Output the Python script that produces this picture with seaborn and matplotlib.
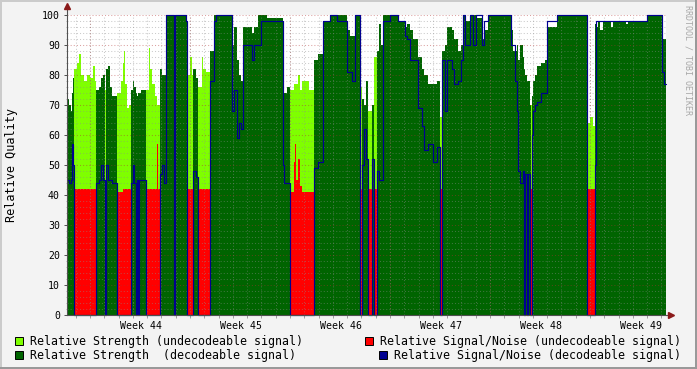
import numpy as np
import pandas as pd
import matplotlib
matplotlib.use("Agg")
import matplotlib.pyplot as plt
import seaborn as sns
from matplotlib.patches import Rectangle
from matplotlib.ticker import FixedLocator, MultipleLocator

# ---------------- data (time in weeks since start of graph) ----------------
week_pos = [0.00, 0.02, 0.04, 0.05, 0.06, 0.07, 0.10, 0.12, 0.14, 0.17, 0.20, 0.23, 0.26, 0.28,
            0.29, 0.32, 0.34, 0.36, 0.38, 0.39, 0.41, 0.43, 0.45, 0.50, 0.54, 0.56, 0.57, 0.58,
            0.60, 0.62, 0.64, 0.66, 0.67, 0.69, 0.70, 0.71, 0.72, 0.74, 0.79, 0.82, 0.83, 0.85,
            0.88, 0.90, 0.91, 0.93, 0.95, 0.97, 0.99, 1.07, 1.08, 1.19, 1.20, 1.23, 1.25, 1.26,
            1.29, 1.31, 1.35, 1.36, 1.39, 1.43, 1.47, 1.49, 1.65, 1.67, 1.70, 1.72, 1.74, 1.76,
            1.85, 1.87, 1.91, 1.94, 2.00, 2.16, 2.17, 2.20, 2.23, 2.27, 2.28, 2.29, 2.31, 2.33,
            2.35, 2.42, 2.47, 2.51, 2.56, 2.63, 2.70, 2.80, 2.83, 2.85, 2.88, 2.93, 2.95, 2.97,
            2.99, 3.01, 3.05, 3.07, 3.10, 3.12, 3.14, 3.16, 3.23, 3.31, 3.38, 3.40, 3.43, 3.46,
            3.51, 3.55, 3.57, 3.61, 3.66, 3.70, 3.73, 3.75, 3.78, 3.80, 3.85, 3.87, 3.91, 3.94,
            3.96, 3.98, 4.03, 4.06, 4.09, 4.15, 4.17, 4.21, 4.44, 4.46, 4.48, 4.50, 4.51, 4.53,
            4.56, 4.57, 4.58, 4.60, 4.61, 4.63, 4.64, 4.65, 4.66, 4.68, 4.70, 4.74, 4.78, 4.80,
            4.90, 5.20, 5.23, 5.26, 5.28, 5.29, 5.31, 5.33, 5.36, 5.44, 5.46, 5.59, 5.61, 5.80,
            5.95, 5.97]
end_week = 5.99

strength = [72, 70, 68, 74, 79,
            82, 84, 87, 80, 78, 80, 79, 83, 78,
            75, 76, 79, 80,
            75,
            82, 83, 76, 73,
            74, 78, 84, 88, 77, 69, 70,
            75, 78, 76,
            74, 73, 74, 74, 75,
            75, 89, 82, 77, 73, 70, 70,
            82, 80, 80,
            100, 100, 100, 99,
            80, 86, 80,
            82, 79,
            76, 86, 82, 81,
            88, 100, 100, 90, 96, 85, 80, 78, 96, 94, 96, 100, 100, 99, 80, 74, 76,
            75, 77, 77, 77, 80, 75, 78, 75,
            85, 87, 98, 100, 100, 95, 93, 93, 100,
            76,
            72, 70, 78,
            68,
            70,
            86,
            88, 97, 90, 100, 100, 98, 96, 97, 95, 92, 86, 82, 80, 77, 77, 78,
            66,
            88, 90, 96, 95, 92, 88, 90, 100, 98, 100, 100, 99, 92, 95, 100, 95, 88, 88, 90,
            85, 90, 86, 82, 80, 78, 78, 70,
            70,
            73, 78, 80, 83, 84, 85, 96, 100,
            64, 66, 63,
            97, 96, 98, 95, 98, 96, 98, 97, 98, 100, 92, 92]

snr = [45, 44, 45, 57, 50,
       42, 42, 42, 42, 42, 42, 42, 42, 42,
       44, 45, 50, 45,
       42,
       50, 45, 45, 44,
       41, 41, 42, 42, 42, 42, 42,
       44, 50, 44,
       0, 45, 0, 45, 45,
       42, 42, 42, 42, 42, 57, 42,
       47, 50, 44,
       100, 0, 100, 98,
       42, 42, 42,
       48, 46,
       42, 42, 42, 42,
       78, 98, 100, 68, 75, 59, 64, 62, 90, 85, 90, 90, 98, 98, 50, 44, 44,
       41, 51, 57, 45, 52, 43, 41, 41,
       49, 51, 98, 100, 98, 81, 81, 78, 100,
       42,
       50, 62, 52,
       42,
       52,
       42,
       48, 45, 45, 98, 100, 98, 93, 92, 85, 85, 69, 63, 55, 57, 51, 56,
       42,
       85, 68, 85, 82, 77, 78, 85, 100, 90, 100, 90, 100, 90, 98, 100, 90, 90, 78, 68,
       48, 44, 48, 0, 47, 0, 47, 0,
       42,
       60, 68, 70, 71, 74, 74, 98, 100,
       42, 42, 42,
       50, 98, 98, 98, 98, 98, 98, 98, 98, 100, 81, 77]

decodeable = [1] * 5 + [0] * 9 + [1] * 4 + [0] + [1] * 4 + [0] * 7 + [1] * 3 + [1] * 5 + \
             [0] * 7 + [1] * 7 + [0] * 3 + [1] * 2 + [0] * 4 + [1] * 17 + [0] * 8 + [1] * 9 + \
             [0] + [1] * 3 + [0] + [1] + [0] + [1] * 16 + [0] + [1] * 27 + [0] + [1] * 8 + \
             [0] * 3 + [1] * 12

week_labels = ["Week 44", "Week 45", "Week 46", "Week 47", "Week 48", "Week 49"]
week_label_pos = [0.74, 1.74, 2.74, 3.74, 4.74, 5.74]
week_start_pos = [0.23, 1.23, 2.23, 3.23, 4.23, 5.23]

legend_labels = ["Relative Strength (undecodeable signal)",
                 "Relative Strength  (decodeable signal)",
                 "Relative Signal/Noise (undecodeable signal)",
                 "Relative Signal/Noise (decodeable signal)"]

C_LGREEN = "#7FFF00"
C_DGREEN = "#006400"
C_RED = "#FF0000"
C_BLUE = "#000090"

# ---------------- style ----------------
sns.set_theme(style="white")
plt.rcParams['font.family'] = ['DejaVu Sans Mono', 'DejaVu Sans']

W, H = 697, 369
fig = plt.figure(figsize=(W / 100, H / 100), dpi=100, facecolor="#F3F3F3")
ax = fig.add_axes([67 / W, 1 - 315 / H, 599 / W, 300 / H])
ax.set_facecolor("white")

dec = np.array(decodeable, dtype=bool)
s = np.array(strength, dtype=float)
n = np.array(snr, dtype=float)
x = np.append(np.array(week_pos, dtype=float), end_week)


def ext(a):
    return np.append(a, a[-1])


s_undec = ext(np.where(dec, 0, s))
s_dec = ext(np.where(dec, s, 0))
n_undec = ext(np.where(dec, 0, n))
n_dec = ext(np.where(dec, n, 0))

ax.fill_between(x, 0, s_undec, step="post", color=C_LGREEN, lw=0, antialiased=False, zorder=1.0)
ax.fill_between(x, 0, s_dec, step="post", color=C_DGREEN, lw=0, antialiased=False, zorder=1.1)
ax.fill_between(x, 0, n_undec, step="post", color=C_RED, lw=0, antialiased=False, zorder=1.2)

df = pd.DataFrame({"week": x, "snr": n_dec})
sns.lineplot(data=df, x="week", y="snr", drawstyle="steps-post", color=C_BLUE, lw=0.85,
             estimator=None, ax=ax, zorder=3, clip_on=False)

ax.set_xlim(0, end_week)
ax.set_ylim(0, 100)

# grid
ax.set_axisbelow(False)
ax.yaxis.set_major_locator(MultipleLocator(10))
ax.yaxis.set_minor_locator(MultipleLocator(2))
day_lines = [w + d / 7 for w in [-0.77] + week_start_pos for d in range(7)]
day_lines = [d for d in day_lines if 0 < d < end_week]
ax.xaxis.set_minor_locator(FixedLocator(day_lines))
ax.xaxis.set_major_locator(FixedLocator(week_label_pos))
ax.set_xticklabels(week_labels)

dot = (0, (1, 2))
ax.grid(which="minor", axis="both", color="#8C8C8C", alpha=0.45, ls=dot, lw=0.75)
ax.grid(which="major", axis="y", color="#B03030", alpha=0.45, ls=dot, lw=0.75)
ax.grid(which="major", axis="x", visible=False)
for wsp in week_start_pos:
    ax.axvline(wsp, color="#B03030", alpha=0.45, ls=dot, lw=0.75, zorder=2.5)

ax.tick_params(axis="y", which="major", left=True, length=2, width=0.7, color="#505050",
               labelsize=7.1, pad=3, labelcolor="black")
ax.tick_params(axis="y", which="minor", left=True, length=1, width=0.5, color="#909090")
ax.tick_params(axis="x", which="major", bottom=True, length=0, labelsize=7.1, pad=4.5,
               labelcolor="black")
ax.tick_params(axis="x", which="minor", bottom=True, length=2, width=0.6, color="#909090")

for sp in ["top", "right"]:
    ax.spines[sp].set_visible(False)
for sp in ["left", "bottom"]:
    ax.spines[sp].set_color("#505050")
    ax.spines[sp].set_linewidth(0.8)
    ax.spines[sp].set_zorder(4)

ax.set_xlabel("")
ax.set_ylabel("Relative Quality", fontsize=8.6, va="center", color="black")
ax.yaxis.set_label_coords((11.5 - 67) / 599, 0.5)

# axis arrows
ax.plot([0, 0], [1.0, 1.02], transform=ax.transAxes, color="#505050", lw=0.8, clip_on=False, zorder=4)
ax.plot([0], [1.03], transform=ax.transAxes, marker="^", ms=4, color="#8B1A1A", clip_on=False, zorder=5)
ax.plot([1.0, 1.005], [0, 0], transform=ax.transAxes, color="#505050", lw=0.8, clip_on=False, zorder=4)
ax.plot([1.008], [0], transform=ax.transAxes, marker=">", ms=4, color="#8B1A1A", clip_on=False, zorder=5)

# watermark
fig.text(688 / W, 1 - 60 / H, "RRDTOOL / TOBI OETIKER", rotation=270, fontsize=6,
         color="#A8A8A8", ha="center", va="center")

# legend
legend_items = [(15, 337, C_LGREEN, 30, legend_labels[0]),
                (15, 351, C_DGREEN, 30, legend_labels[1]),
                (365, 337, C_RED, 380, legend_labels[2]),
                (379, 351, C_BLUE, 394, legend_labels[3])]
for bx, by, col, tx, lab in legend_items:
    fig.add_artist(Rectangle((bx / W, 1 - (by + 8) / H), 8 / W, 8 / H, transform=fig.transFigure,
                             facecolor=col, edgecolor="black", lw=0.7))
    fig.text(tx / W, 1 - (by + 4.5) / H, lab, fontsize=8.4, color="black", ha="left", va="center")

# frame shading
fig.add_artist(Rectangle((0, 0), 2 / W, 1, transform=fig.transFigure, facecolor="#CBCBCB", lw=0))
fig.add_artist(Rectangle((0, 1 - 2 / H), 1, 2 / H, transform=fig.transFigure, facecolor="#CBCBCB", lw=0))
fig.add_artist(Rectangle((1 - 2 / W, 0), 2 / W, 1, transform=fig.transFigure, facecolor="#999999", lw=0))
fig.add_artist(Rectangle((0, 0), 1, 2 / H, transform=fig.transFigure, facecolor="#999999", lw=0))

fig.savefig("out.png", dpi=100, facecolor=fig.get_facecolor())
